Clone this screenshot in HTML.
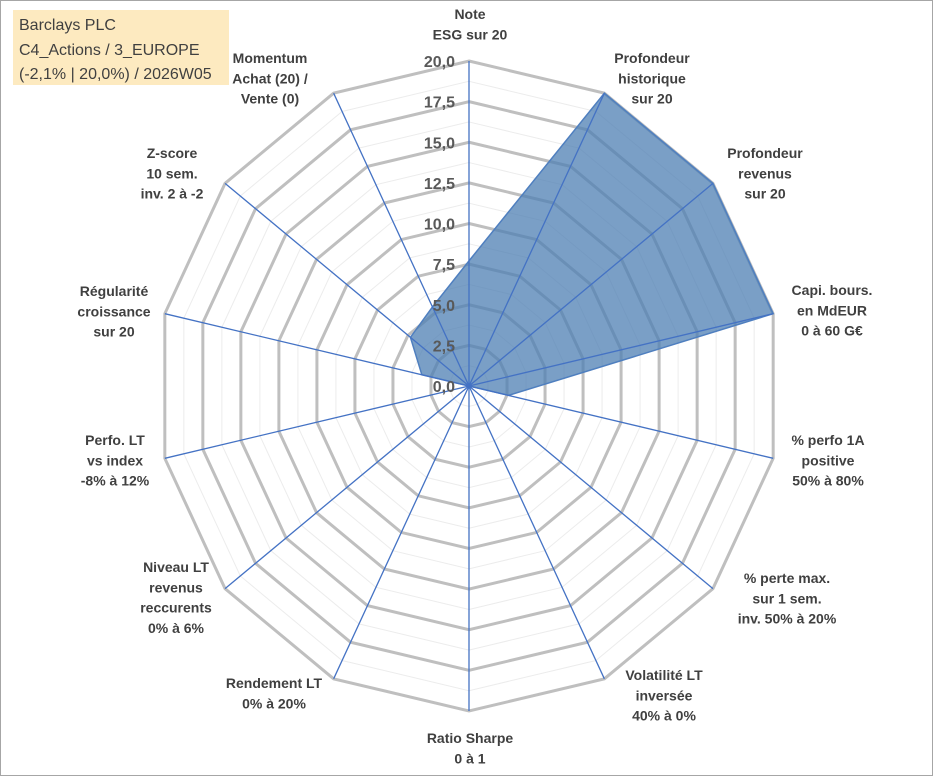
<!DOCTYPE html>
<html><head><meta charset="utf-8"><style>
body{margin:0;background:#fff;}
svg{display:block;font-family:"Liberation Sans",Arial,sans-serif;}
</style></head><body>
<svg id="chart" width="933" height="776" viewBox="0 0 933 776" xmlns="http://www.w3.org/2000/svg">
<rect x="0.5" y="0.5" width="932" height="775" fill="#fff" stroke="#a6a6a6"/>
<rect x="13" y="10" width="216" height="75" fill="#fdeac0"/>
<g fill="#404040" font-size="16">
<text x="19" y="30">Barclays PLC</text>
<text x="19" y="55">C4_Actions / 3_EUROPE</text>
<text x="19" y="79">(-2,1% | 20,0%) / 2026W05</text>
</g>
<g id="grid"></g><g id="series"></g><g id="axes"></g><g id="ticks"></g><g id="labels"></g>
</svg>
<script>
const categories=[["Note","ESG sur 20"],["Profondeur","historique","sur 20"],["Profondeur","revenus","sur 20"],["Capi. bours.","en MdEUR","0 à 60 G€"],["% perfo 1A","positive","50% à 80%"],["% perte max.","sur 1 sem.","inv. 50% à 20%"],["Volatilité LT","inversée","40% à 0%"],["Ratio Sharpe","0 à 1"],["Rendement LT","0% à 20%"],["Niveau LT","revenus","reccurents","0% à 6%"],["Perfo. LT","vs index","-8% à 12%"],["Régularité","croissance","sur 20"],["Z-score","10 sem.","inv. 2 à -2"],["Momentum","Achat (20) /","Vente (0)"]];
const values=[7.7,20,20,20,2.6,0,0,0,0,0,0,3.1,4.8,5.4];
const tickValues=[0,2.5,5,7.5,10,12.5,15,17.5,20];
const tickLabels=["0,0","2,5","5,0","7,5","10,0","12,5","15,0","17,5","20,0"];
const labelCenters=[[470,14],[652,58],[765,153],[832,290],[828,440],[787,578],[664,675],[470,738],[274,683],[176,567],[115,440],[114,291],[172,153],[270,58]];
const NS="http://www.w3.org/2000/svg";
const cx=469,cy=386,rx=312,ry=325,maxV=20,N=categories.length;
function pt(i,v){const a=2*Math.PI*i/N;return [cx+Math.sin(a)*rx*v/maxV, cy-Math.cos(a)*ry*v/maxV];}
function mk(tag,attrs,parent){const e=document.createElementNS(NS,tag);for(const k in attrs)e.setAttribute(k,attrs[k]);parent.appendChild(e);return e;}
const grid=document.getElementById('grid');
for(let k=1;k<=16;k++){const v=k*1.25;const major=k%2===0;
 const p=[];for(let i=0;i<N;i++)p.push(pt(i,v).join(','));
 const e=mk('polygon',{points:p.join(' '),fill:'none',stroke:major?'#bfbfbf':'#ececec','stroke-width':major?3:1},grid);
 
 }
const ser=document.getElementById('series');
const sp=values.map((v,i)=>pt(i,v).join(',')).join(' ');
const poly=mk('polygon',{points:sp,fill:'#4e7fb3','fill-opacity':0.75,stroke:'#4f7fbf','stroke-width':1.5},ser);


const ax=document.getElementById('axes');
for(let i=0;i<N;i++){const [x,y]=pt(i,maxV);
 const l=mk('line',{x1:cx,y1:cy,x2:x,y2:y,stroke:'#4472c4','stroke-width':1.3},ax);
 
 }
const tk=document.getElementById('ticks');
tickValues.forEach((v,j)=>{const [x,y]=pt(0,v);
 const t=mk('text',{x:x-14,y:y+6,'text-anchor':'end','font-size':16,'font-weight':'bold',fill:'#595959'},tk);
 t.textContent=tickLabels[j];
 
 });
const lb=document.getElementById('labels');
categories.forEach((lines,i)=>{const [x,y]=labelCenters[i];
 const t=mk('text',{x:x,y:y+5,'text-anchor':'middle','font-size':14,'font-weight':'bold',fill:'#404040'},lb);
 
 
 lines.forEach((s,k)=>{const ts=mk('tspan',{x:x,dy:k?20.3:0},t);ts.textContent=s;});});
</script>
</body></html>
